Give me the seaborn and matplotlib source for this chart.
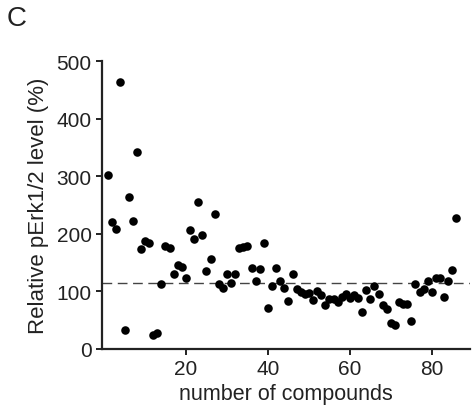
import numpy as np
import pandas as pd
import matplotlib
matplotlib.use("Agg")
import matplotlib.pyplot as plt
import seaborn as sns

compound = list(range(1, 87))
perk_level = [303, 221, 208, 463, 33, 264, 223, 342, 173, 187,
              184, 25, 28, 112, 178, 175, 130, 146, 143, 124,
              207, 191, 255, 198, 135, 157, 234, 112, 106, 131,
              114, 130, 176, 177, 178, 141, 118, 139, 184, 71,
              110, 140, 118, 106, 83, 131, 105, 99, 96, 97,
              85, 101, 94, 77, 87, 86, 82, 91, 95, 89,
              94, 89, 65, 103, 86, 109, 95, 77, 69, 46,
              42, 82, 79, 79, 48, 112, 99, 104, 118, 99,
              124, 123, 90, 118, 137, 228]
reference_level = 115
x_ticks = [20, 40, 60, 80]
y_ticks = [0, 100, 200, 300, 400, 500]

df = pd.DataFrame({"compound": compound, "level": perk_level})

sns.set_theme(style="ticks")
plt.rcParams['font.family'] = ['Liberation Sans', 'DejaVu Sans']
text_color = "#222222"

fig = plt.figure(figsize=(4.73, 4.14), dpi=100)
ax = fig.add_axes([0.2156, 0.1546, 0.778, 0.6955])

sns.scatterplot(data=df, x="compound", y="level", ax=ax, s=38,
                color="black", edgecolor="black", linewidth=0, zorder=3)
ax.axhline(reference_level, color="#444444", lw=1.0, ls=(0, (7, 4)), zorder=2)

ax.set_xlim(-0.5, 89.3)
ax.set_ylim(0, 500)
ax.set_xticks(x_ticks)
ax.set_yticks(y_ticks)
ax.tick_params(axis="both", labelsize=15, colors=text_color, length=4.5, width=1.4,
               direction="out", pad=3)
ax.set_xlabel("number of compounds", fontsize=15.5, color=text_color, labelpad=3)
ax.set_ylabel("Relative pErk1/2 level (%)", fontsize=16, color=text_color, labelpad=5)
for side in ["top", "right"]:
    ax.spines[side].set_visible(False)
for side in ["left", "bottom"]:
    ax.spines[side].set_linewidth(1.6)
    ax.spines[side].set_color("#222222")

fig.text(0.015, 0.985, "C", fontsize=20, color=text_color, va="top", ha="left")

fig.savefig("out.png", dpi=100)
